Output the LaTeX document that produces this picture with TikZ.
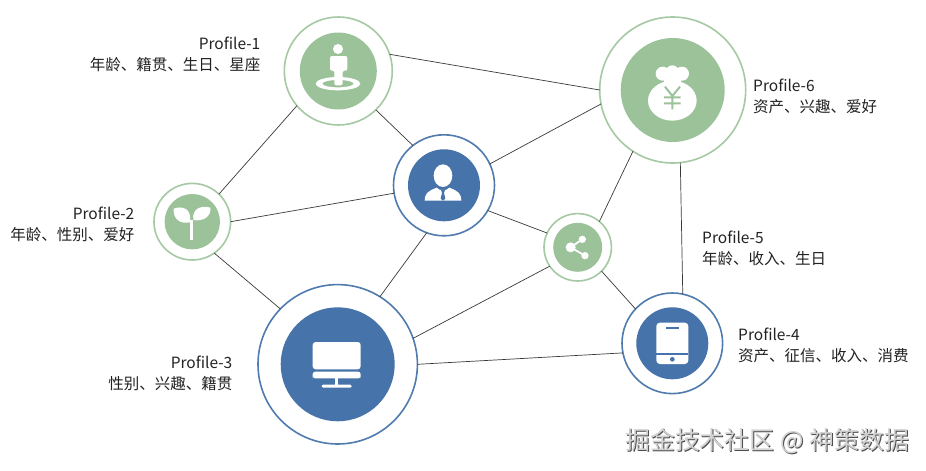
\documentclass[tikz,border=0pt]{standalone}
\usepackage{fontspec}
\setmainfont{Noto Sans CJK SC}
\definecolor{gfill}{HTML}{9CC29A}
\definecolor{gline}{HTML}{A5C9A3}
\definecolor{bfill}{HTML}{4673A9}
\definecolor{bline}{HTML}{4F7BAF}
\definecolor{edgec}{HTML}{3A3A3A}
\definecolor{txt}{HTML}{222222}
\tikzset{
  ring/.style={circle,draw,fill=white,line width=1.6pt,inner sep=0pt,outer sep=0pt},
  disc/.style={circle,inner sep=0pt,outer sep=0pt},
  link/.style={draw=edgec,line width=0.7pt},
  lab/.style={font=\fontsize{15.5}{21}\selectfont,text=txt,inner sep=0pt},
  labr/.style={lab,align=right,anchor=east},
  labl/.style={lab,align=left,anchor=west},
  wmark/.style={font=\fontsize{24.9}{28}\selectfont,inner sep=0pt,anchor=west}
}
\begin{document}
\begin{tikzpicture}[x=1pt,y=-1pt]
\useasboundingbox (0,0) rectangle (926,471);
\fill[white] (0,0) rectangle (926,471);
% rings
\node[ring,draw=gline,minimum size=108pt] (n1) at (338.3,71) {};
\node[ring,draw=gline,minimum size=76.6pt] (n2) at (192.3,221.7) {};
\node[ring,draw=bline,minimum size=159.4pt] (n3) at (337.7,364.3) {};
\node[ring,draw=bline,minimum size=100.6pt] (n4) at (672.3,343.3) {};
\node[ring,draw=gline,minimum size=67.4pt] (n5) at (577.7,247.3) {};
\node[ring,draw=gline,minimum size=146pt] (n6) at (672.7,90) {};
\node[ring,draw=bline,minimum size=101pt] (nc) at (444,185.3) {};
% discs
\node[disc,fill=gfill,minimum size=77pt] (d1) at (n1) {};
\node[disc,fill=gfill,minimum size=55.4pt] (d2) at (n2) {};
\node[disc,fill=bfill,minimum size=114pt] (d3) at (n3) {};
\node[disc,fill=bfill,minimum size=72pt] (d4) at (n4) {};
\node[disc,fill=gfill,minimum size=49pt] (d5) at (n5) {};
\node[disc,fill=gfill,minimum size=104pt] (d6) at (n6) {};
\node[disc,fill=bfill,minimum size=72pt] (dc) at (nc) {};
% connectors
\draw[link] (n1.18.9) -- (n6.180);
\draw[link] (n1.-46) -- (nc.128.7);
\draw[link] (n1.220.6) -- (n2.46.5);
\draw[link] (n2.0) -- (nc.189.7);
\draw[link] (n2.-55.5) -- (n3.136.7);
\draw[link] (nc.250) -- (n3.58.8);
\draw[link] (nc.25.6) -- (n6.191);
\draw[link] (nc.-30.8) -- (n5.155.7);
\draw[link] (n5.50.6) -- (n6.237.3);
\draw[link] (n5.214) -- (n3.19);
\draw[link] (n5.-45.8) -- (n4.137.9);
\draw[link] (n3.0) -- (n4.191.8);
\draw[link] (n6.-84.3) -- (n4.78);
% icon 1: person on a target
\begin{scope}[shift={(270,10)},scale=1/3]
  \fill[white,even odd rule] (204,221) ellipse [x radius=67,y radius=20] (204,221) ellipse [x radius=47,y radius=11];
  \fill[white] (204,117) circle (15);
  \fill[white,rounded corners=2pt] (180,182) -- (180,138) -- (232,138) -- (232,182) -- (218,182) -- (218,226) -- (193,226) -- (193,182) -- cycle;
\end{scope}
% icon centre: man in a suit
\begin{scope}[shift={(270,10)},scale=1/3]
  \fill[white] (519,497) ellipse [x radius=28,y radius=34];
  \fill[white] (464,572) .. controls (465,550) and (472,544) .. (500,533) -- (510,540) -- (528,540) -- (538,533) .. controls (566,544) and (573,550) .. (574,572) -- cycle;
  \fill[bfill] (513,540) -- (525,540) -- (522,549) -- (526,566) -- (519,572) -- (512,566) -- (516,549) -- cycle;
\end{scope}
% icon 6: money bag
\begin{scope}[shift={(590,10)},scale=1/3]
  \fill[white] (247,272) ellipse [x radius=73,y radius=60];
  \fill[white] (218,191) circle (21) (247,186) circle (20) (276,191) circle (21);
  \fill[white] (222,195) rectangle (272,225);
  \draw[gfill,line width=2pt] (225,230) -- (247,258) -- (270,230) (247,258) -- (247,298) (222,262) -- (272,262) (222,280) -- (272,280);
\end{scope}
% icon 2: sprout
\begin{scope}[shift={(140,170)},scale=1/3]
  \fill[white] (150,150) rectangle (160,209);
  \fill[white] (101,116) .. controls (125,107) and (156,113) .. (150,157) .. controls (118,163) and (99,146) .. (101,116) -- cycle;
  \fill[white] (211,113) .. controls (185,105) and (155,115) .. (160,150) .. controls (185,155) and (215,142) .. (211,113) -- cycle;
\end{scope}
% icon 3: monitor
\begin{scope}[shift={(250,280)},scale=1/3]
  \fill[white,rounded corners=3pt] (188,268) -- (188,186) -- (332,186) -- (332,268) -- cycle;
  \fill[white,rounded corners=2.5pt] (188,290) -- (188,275) -- (332,275) -- (332,290) -- (332,295) -- (188,295) -- cycle;
  \fill[white] (255,295) rectangle (265,315);
  \fill[white,rounded corners=1.3pt] (215,314) rectangle (305,323);
\end{scope}
% icon 4: tablet
\begin{scope}[shift={(530,210)},scale=1/3]
  \fill[white,rounded corners=3.5pt] (379,338) rectangle (475,462);
  \draw[bfill,line width=2pt] (408,353) -- (447,353);
  \draw[bfill,line width=1.8pt] (379,431) -- (475,431);
  \fill[bfill] (427,448) circle (7);
\end{scope}
% icon 5: share
\begin{scope}[shift={(530,210)},scale=1/3]
  \draw[white,line width=1.8pt] (157,88) -- (122,112) -- (165,137);
  \fill[white] (122,112) circle (15) (157,88) circle (11) (165,137) circle (11);
\end{scope}
% labels
\node[labr] (t1) at (260.5,54) {Profile-1\\年龄、籍贯、生日、星座};
\node[labr] (t2) at (134.5,224) {Profile-2\\年龄、性别、爱好};
\node[labr] (t3) at (232.5,373) {Profile-3\\性别、兴趣、籍贯};
\node[labl] (t4) at (738,345) {Profile-4\\资产、征信、收入、消费};
\node[labl] (t5) at (702,248.5) {Profile-5\\年龄、收入、生日};
\node[labl] (t6) at (753,96) {Profile-6\\资产、兴趣、爱好};
% watermark
\node[wmark,text=black!70] (w0) at (626,441.8) {掘金技术社区 @ 神策数据};
\node[wmark,text=black!18] (w1) at (625,441) {掘金技术社区 @ 神策数据};
\end{tikzpicture}
\end{document}
